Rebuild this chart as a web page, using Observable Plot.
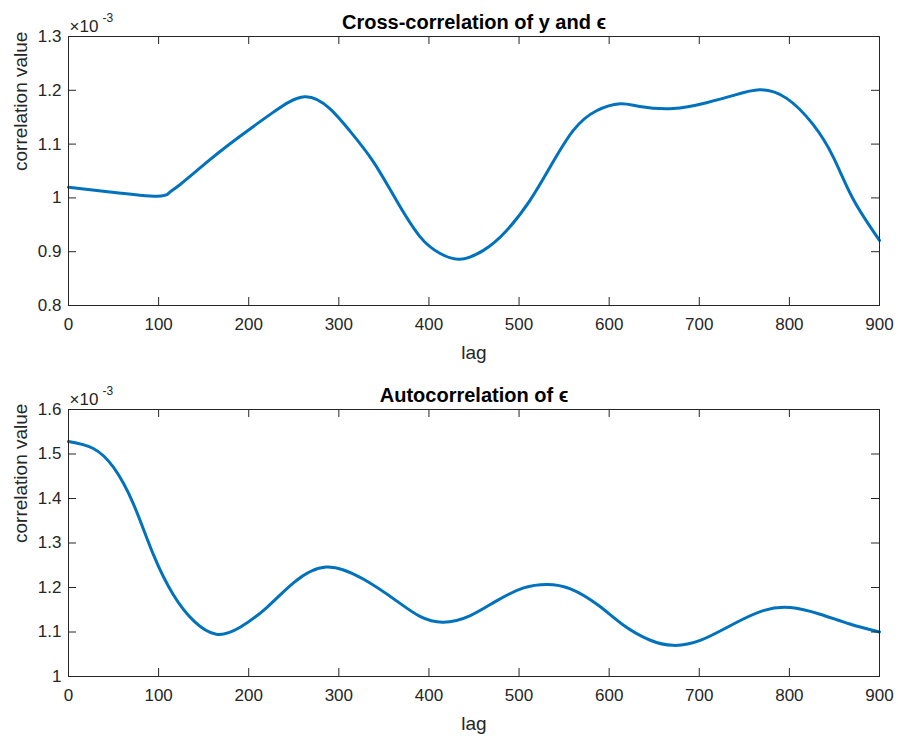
<!DOCTYPE html>
<html>
<head>
<meta charset="utf-8">
<script src="https://cdn.jsdelivr.net/npm/d3@7"></script>
<script src="https://cdn.jsdelivr.net/npm/@observablehq/plot@0.6"></script>
<style>
  html, body { margin: 0; padding: 0; background: #fff; }
  #chart { width: 898px; height: 738px; }
  svg { display: block; }
</style>
</head>
<body>
<div id="chart"></div>
<script>
// Cross-correlation of y and epsilon (values ×10^-3)
const crossLags = [0, 46, 98, 112, 124, 157, 190, 227, 262, 290, 312, 338, 364, 390, 412, 434, 460, 486, 512, 534, 560, 586, 612, 634, 671, 708, 737, 767, 797, 826, 849, 871, 900];
const crossValues = [1.020, 1.011, 1.003, 1.010, 1.025, 1.071, 1.114, 1.159, 1.188, 1.166, 1.125, 1.068, 0.995, 0.928, 0.897, 0.886, 0.902, 0.939, 0.995, 1.056, 1.125, 1.162, 1.175, 1.170, 1.166, 1.177, 1.190, 1.201, 1.185, 1.137, 1.075, 0.997, 0.921];

// Autocorrelation of epsilon (values ×10^-3)
const autoLags = [0, 27, 50, 72, 94, 116, 139, 164, 190, 220, 250, 286, 327, 364, 390, 416, 446, 475, 505, 531, 557, 588, 616, 645, 671, 701, 738, 771, 801, 834, 867, 900];
const autoValues = [1.528, 1.513, 1.470, 1.388, 1.275, 1.185, 1.125, 1.095, 1.110, 1.155, 1.211, 1.246, 1.219, 1.170, 1.135, 1.122, 1.137, 1.170, 1.199, 1.207, 1.197, 1.160, 1.115, 1.082, 1.070, 1.081, 1.118, 1.148, 1.155, 1.140, 1.118, 1.100];

const xTicks = [0, 100, 200, 300, 400, 500, 600, 700, 800, 900];
const crossYTicks = [0.8, 0.9, 1.0, 1.1, 1.2, 1.3];
const autoYTicks = [1.0, 1.1, 1.2, 1.3, 1.4, 1.5, 1.6];

const crossTitle = "Cross-correlation of y and \u03F5";
const autoTitle = "Autocorrelation of \u03F5";
const xLabel = "lag";
const yLabel = "correlation value";
const multiplier = "\u00D710";
const exponent = "-3";

const FONT = "'Liberation Sans', Arial, Helvetica, sans-serif";
const INK = "#262626";

function panel({lags, values, yDomain, yTicks, title, marginTop, marginBottom, height, yFmt}) {
  const data = lags.map((l, i) => ({lag: l, v: values[i]}));
  const width = 898, marginLeft = 68, marginRight = 19;
  const fh = height - marginTop - marginBottom;
  const tl = 8;
  return Plot.plot({
    width, height, marginLeft, marginRight, marginTop, marginBottom,
    style: {fontFamily: FONT, fontSize: "17px", color: INK, background: "#fff", overflow: "visible"},
    x: {domain: [0, 900]},
    y: {domain: yDomain},
    marks: [
      Plot.line(data, {x: "lag", y: "v", stroke: "#0072BD", strokeWidth: 3, curve: "natural"}),
      Plot.frame({stroke: INK, strokeWidth: 1}),
      // inward ticks on all four sides
      Plot.tickX(xTicks, {x: d => d, insetTop: fh - tl, stroke: INK}),
      Plot.tickX(xTicks, {x: d => d, insetBottom: fh - tl, stroke: INK}),
      Plot.tickY(yTicks, {y: d => d, insetRight: 811 - tl, stroke: INK}),
      Plot.tickY(yTicks, {y: d => d, insetLeft: 811 - tl, stroke: INK}),
      Plot.axisX({ticks: xTicks, tickSize: 0, tickPadding: 12, label: null, fontSize: 17}),
      Plot.axisY({ticks: yTicks, tickSize: 0, tickPadding: 7, label: null, tickFormat: yFmt, fontSize: 17}),
      Plot.text([title], {frameAnchor: "top", dy: -8, lineAnchor: "bottom", fontWeight: "bold", fontSize: 20, fill: "#000"}),
      Plot.text([xLabel], {frameAnchor: "bottom", dy: 47, lineAnchor: "middle", fontSize: 19, fill: INK}),
      Plot.text([yLabel], {frameAnchor: "left", dx: -48, rotate: -90, lineAnchor: "middle", fontSize: 19, fill: INK}),
      Plot.text([multiplier], {frameAnchor: "top-left", dx: 1, dy: -5, textAnchor: "start", lineAnchor: "bottom", fontSize: 17, fill: INK}),
      Plot.text([exponent], {frameAnchor: "top-left", dx: 34, dy: -15, textAnchor: "start", lineAnchor: "bottom", fontSize: 12, fill: INK})
    ]
  });
}

const fmt = d => (Math.abs(d - Math.round(d)) < 1e-9 ? String(Math.round(d)) : d.toFixed(1));

const chart = document.getElementById("chart");
chart.appendChild(panel({lags: crossLags, values: crossValues, yDomain: [0.8, 1.3], yTicks: crossYTicks, title: crossTitle, marginTop: 36, marginBottom: 64, height: 369, yFmt: fmt}));
chart.appendChild(panel({lags: autoLags, values: autoValues, yDomain: [1.0, 1.6], yTicks: autoYTicks, title: autoTitle, marginTop: 40, marginBottom: 62, height: 369, yFmt: fmt}));
</script>
</body>
</html>
